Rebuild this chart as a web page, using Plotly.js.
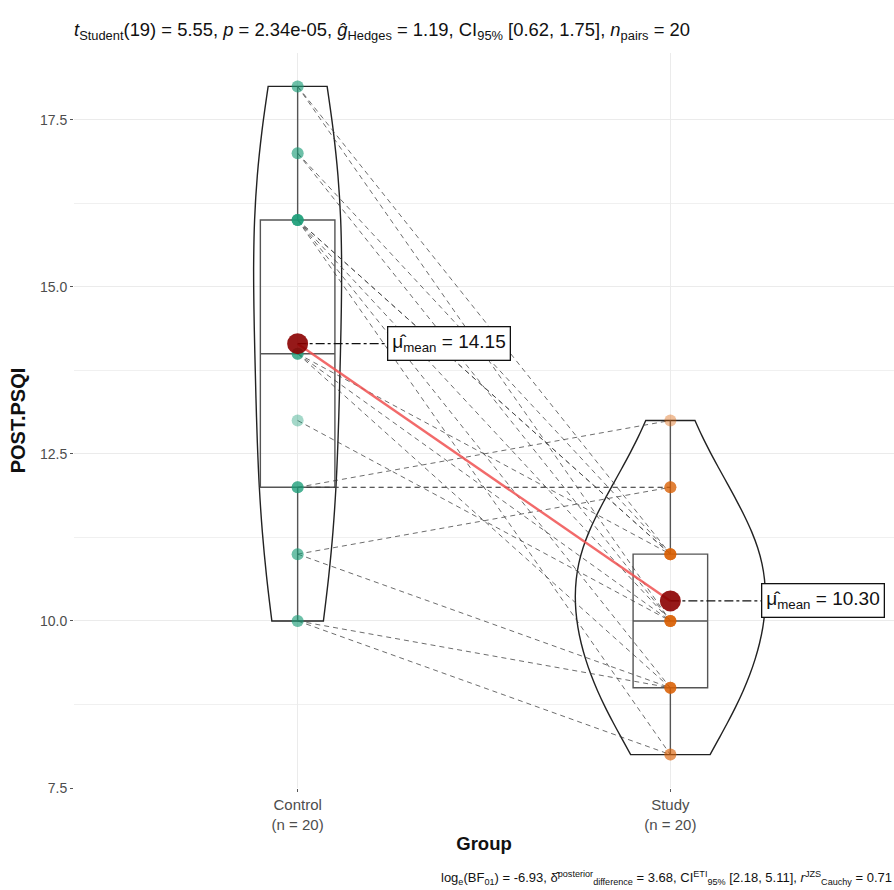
<!DOCTYPE html>
<html>
<head>
<meta charset="utf-8">
<script src="https://cdn.plot.ly/plotly-3.0.1.min.js"></script>
<style>html,body{margin:0;padding:0;background:#fff;}#chart{width:894px;height:890px;}</style>
</head>
<body>
<div id="chart"></div>
<script>
// Data (paired observations, same order in both arrays)
const groups = ["Control", "Study"];
const groupLabels = ["Control<br>(n = 20)", "Study<br>(n = 20)"];
const controlVals = [18,18,17,17,16,16,16,16,16,14,14,14,13,12,12,12,11,11,10,10];
const studyVals   = [11,10,11,10,11,10, 9,11, 8,10, 9,11,10,12,12,13,12, 9, 9, 8];
const yTicks = [7.5, 10.0, 12.5, 15.0, 17.5];

const mean = a => a.reduce((s, v) => s + v, 0) / a.length;
const mC = mean(controlVals), mS = mean(studyVals);

const font = "Liberation Sans, Arial, sans-serif";
const traces = [];

// paired dashed lines
const lx = [], ly = [];
controlVals.forEach((v, i) => { lx.push(1, 2, null); ly.push(v, studyVals[i], null); });
traces.push({type:'scatter', mode:'lines', x:lx, y:ly,
  line:{color:'rgba(60,60,60,0.75)', width:1, dash:'5px,4px'}, hoverinfo:'skip', showlegend:false});

// violins
[[controlVals, 1, 0.236, 2.0], [studyVals, 2, 0.51, 0.72]].forEach(([vals, xp, w, bw]) => {
  traces.push({type:'violin', y:vals, x0:xp, width:w, bandwidth:bw, spanmode:'hard',
    points:false, line:{color:'#222', width:1.4}, fillcolor:'rgba(0,0,0,0)',
    box:{visible:false}, meanline:{visible:false}, hoverinfo:'skip', showlegend:false});
});

// boxes
[[controlVals, 1], [studyVals, 2]].forEach(([vals, xp]) => {
  traces.push({type:'box', y:vals, x0:xp, width:0.2, boxpoints:false, whiskerwidth:0,
    line:{color:'#555', width:1.4}, fillcolor:'rgba(0,0,0,0)', hoverinfo:'skip', showlegend:false});
});

// points
traces.push({type:'scatter', mode:'markers', x:controlVals.map(() => 1), y:controlVals,
  marker:{color:'#1B9E77', size:12, opacity:0.4}, hoverinfo:'skip', showlegend:false});
traces.push({type:'scatter', mode:'markers', x:studyVals.map(() => 2), y:studyVals,
  marker:{color:'#D95F02', size:12, opacity:0.4}, hoverinfo:'skip', showlegend:false});

// mean line
traces.push({type:'scatter', mode:'lines', x:[1, 2], y:[mC, mS],
  line:{color:'rgba(240,80,80,0.85)', width:2.4}, hoverinfo:'skip', showlegend:false});

// label leader lines
traces.push({type:'scatter', mode:'lines', x:[1, 1.24, null, 2, 2.243], y:[mC, mC, null, mS, mS],
  line:{color:'#111', width:1.3, dash:'dashdot'}, hoverinfo:'skip', showlegend:false});

// mean points
traces.push({type:'scatter', mode:'markers', x:[1, 2], y:[mC, mS],
  marker:{color:'#8B0000', size:21, opacity:0.9}, hoverinfo:'skip', showlegend:false});

const layout = {
  width:894, height:890,
  margin:{l:74, r:0, t:53, b:102},
  paper_bgcolor:'#fff', plot_bgcolor:'#fff',
  font:{family:font, color:'#222'},
  violinmode:'overlay', boxmode:'overlay',
  hovermode:false,
  title:{text:"<i>t</i><sub>Student</sub>(19) = 5.55, <i>p</i> = 2.34e-05, <i>ĝ</i><sub>Hedges</sub> = 1.19, CI<sub>95%</sub> [0.62, 1.75], <i>n</i><sub>pairs</sub> = 20",
    x:0.0, xref:'paper', xanchor:'left', y:1 - 30/890, yref:'container', yanchor:'middle',
    font:{family:font, size:18.4, color:'#111'}},
  xaxis:{range:[0.4, 2.6], tickvals:[1, 2], ticktext:groupLabels, showgrid:true,
    gridcolor:'#ebebeb', gridwidth:1, zeroline:false, showline:false,
    ticks:'outside', ticklen:3, tickcolor:'#555',
    tickfont:{family:font, size:15, color:'#4d4d4d'},
    title:{text:'<b>Group</b>', font:{family:font, size:18.5, color:'#111'}, standoff:5}},
  yaxis:{range:[7.5, 18.5], tickvals:yTicks, tickformat:'.1f', showgrid:true,
    gridcolor:'#ebebeb', gridwidth:1, zeroline:false, showline:false,
    ticks:'outside', ticklen:3, tickcolor:'#555',
    tickfont:{family:font, size:14, color:'#4d4d4d'},
    minor:{tickvals:[8.75, 11.25, 13.75, 16.25], showgrid:true, gridcolor:'#f0f0f0', ticks:''},
    title:{text:'<b>POST.PSQI</b>', font:{family:font, size:20, color:'#111'}, standoff:8}},
  annotations:[
    {x:1.24, y:mC, xref:'x', yref:'y', xanchor:'left', yanchor:'middle', showarrow:false,
     text:'μ̂<sub>mean</sub> = ' + mC.toFixed(2), font:{family:font, size:19, color:'#111'},
     bordercolor:'#111', borderwidth:1.3, borderpad:4, bgcolor:'#fff'},
    {x:2.243, y:mS, xref:'x', yref:'y', xanchor:'left', yanchor:'middle', showarrow:false,
     text:'μ̂<sub>mean</sub> = ' + mS.toFixed(2), font:{family:font, size:19, color:'#111'},
     bordercolor:'#111', borderwidth:1.3, borderpad:4, bgcolor:'#fff'},
    {x:1, y:(788 - 878) / 735, xref:'paper', yref:'paper', xanchor:'right', yanchor:'middle', showarrow:false,
     text:'log<sub>e</sub>(BF<sub>01</sub>) = -6.93, δ̂<sup>posterior</sup><sub>difference</sub> = 3.68, CI<sup>ETI</sup><sub>95%</sub> [2.18, 5.11], <i>r</i><sup>JZS</sup><sub>Cauchy</sub> = 0.71',
     font:{family:font, size:13, color:'#111'}}
  ]
};

Plotly.newPlot('chart', traces, layout, {displayModeBar:false, staticPlot:true});
</script>
</body>
</html>
